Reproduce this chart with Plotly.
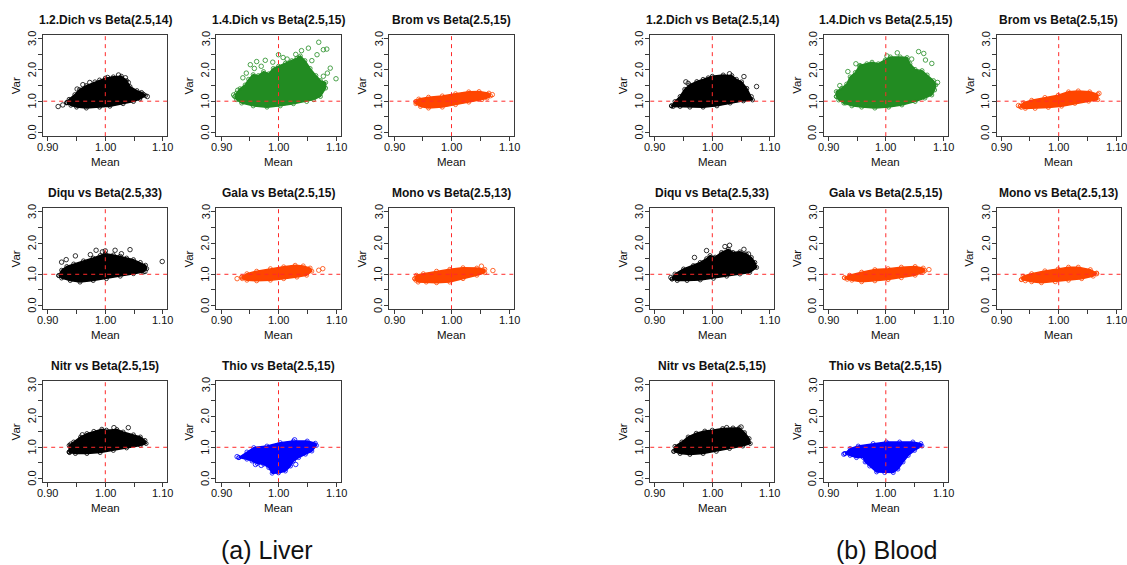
import plotly.graph_objects as go

# ---------------------------------------------------------------------------
# Mean / variance clouds of simulated ratios against Beta priors.
# Each cloud is stored as its outline (Mean, Var) plus the stray points
# lying outside the dense core.
# ---------------------------------------------------------------------------

panel_titles = [
    "1.2.Dich vs Beta(2.5,14)", "1.4.Dich vs Beta(2.5,15)", "Brom vs Beta(2.5,15)",
    "Diqu vs Beta(2.5,33)", "Gala vs Beta(2.5,15)", "Mono vs Beta(2.5,13)",
    "Nitr vs Beta(2.5,15)", "Thio vs Beta(2.5,15)",
]
panel_colors = ["#000000", "#228B22", "#FF4500", "#000000",
                "#FF4500", "#FF4500", "#000000", "#0000FF"]
group_labels = ["(a) Liver", "(b) Blood"]

x_ticks = [0.90, 0.95, 1.00, 1.05, 1.10]
x_tick_text = ["0.90", "", "1.00", "", "1.10"]
y_ticks = [0.0, 0.5, 1.0, 1.5, 2.0, 2.5, 3.0]
y_tick_text = ["0.0", "", "1.0", "", "2.0", "", "3.0"]

# ----------------------------- Liver ---------------------------------------
liver_dich12_hull = [(0.933, 0.95), (0.937, 1.06), (0.947, 1.21), (0.955, 1.37), (0.967, 1.50),
                     (0.982, 1.62), (0.990, 1.68), (1.000, 1.74), (1.014, 1.78), (1.028, 1.80),
                     (1.037, 1.66), (1.043, 1.47), (1.055, 1.34), (1.063, 1.28), (1.070, 1.18),
                     (1.060, 1.07), (1.049, 0.99), (1.031, 0.92), (1.008, 0.84), (0.990, 0.81),
                     (0.967, 0.78), (0.950, 0.81), (0.940, 0.87)]
liver_dich12_pts = [(0.918, 0.83), (0.926, 0.88), (0.934, 0.96), (0.951, 1.39), (0.961, 1.53),
                    (0.973, 1.60), (1.023, 1.84), (1.035, 1.75), (1.073, 1.15), (1.066, 1.22),
                    (1.004, 1.76), (1.040, 1.60)]

liver_dich14_hull = [(0.924, 1.15), (0.927, 1.05), (0.936, 0.94), (0.956, 0.85), (0.980, 0.81),
                     (1.003, 0.85), (1.026, 0.92), (1.049, 0.99), (1.061, 1.05), (1.073, 1.15),
                     (1.082, 1.42), (1.082, 1.60), (1.073, 1.66), (1.065, 1.82), (1.055, 2.05),
                     (1.046, 2.30), (1.038, 2.45), (1.032, 2.38), (1.023, 2.30), (1.012, 2.22),
                     (1.000, 2.12), (0.991, 2.05), (0.983, 1.88), (0.974, 1.95), (0.965, 1.82),
                     (0.956, 1.85), (0.948, 1.70), (0.942, 1.52), (0.933, 1.40), (0.927, 1.26)]
liver_dich14_pts = [(1.070, 2.89), (1.078, 2.65), (1.084, 2.67), (1.090, 2.06), (1.100, 1.72),
                    (1.052, 2.70), (1.067, 2.49), (1.000, 2.49), (0.962, 2.27), (0.951, 2.17),
                    (0.977, 2.31), (1.040, 2.62), (1.030, 2.50), (1.058, 2.30), (1.015, 2.35),
                    (0.990, 2.25), (0.958, 2.05), (0.944, 1.90), (0.938, 1.75), (1.085, 1.90),
                    (1.078, 1.80), (0.922, 1.20), (0.929, 1.35), (0.970, 2.12), (1.008, 2.40)]

liver_brom_hull = [(0.938, 0.99), (0.943, 1.07), (0.960, 1.13), (0.984, 1.17), (1.007, 1.24),
                   (1.030, 1.30), (1.048, 1.31), (1.065, 1.26), (1.068, 1.17), (1.062, 1.10),
                   (1.053, 1.05), (1.030, 0.97), (1.007, 0.89), (0.984, 0.81), (0.960, 0.78),
                   (0.946, 0.83), (0.938, 0.92)]
liver_brom_pts = [(1.071, 1.21), (0.940, 0.96)]

liver_diqu_hull = [(0.919, 0.96), (0.924, 1.13), (0.933, 1.25), (0.945, 1.33), (0.962, 1.43),
                   (0.979, 1.52), (0.991, 1.60), (1.000, 1.66), (1.014, 1.62), (1.026, 1.58),
                   (1.037, 1.52), (1.049, 1.47), (1.061, 1.38), (1.070, 1.29), (1.072, 1.18),
                   (1.066, 1.07), (1.049, 1.02), (1.026, 0.94), (1.002, 0.86), (0.979, 0.80),
                   (0.956, 0.75), (0.939, 0.80), (0.924, 0.88)]
liver_diqu_pts = [(0.924, 1.39), (0.932, 1.47), (0.948, 1.59), (0.974, 1.63), (0.984, 1.77),
                  (0.995, 1.72), (1.000, 1.75), (1.017, 1.77), (1.028, 1.66), (1.043, 1.79),
                  (1.069, 1.09), (1.099, 1.41)]

liver_gala_hull = [(0.936, 0.91), (0.945, 1.02), (0.962, 1.10), (0.986, 1.18), (1.009, 1.24),
                   (1.029, 1.29), (1.043, 1.27), (1.055, 1.20), (1.058, 1.10), (1.049, 0.97),
                   (1.032, 0.91), (1.009, 0.86), (0.986, 0.81), (0.962, 0.79), (0.945, 0.81),
                   (0.937, 0.86)]
liver_gala_pts = [(0.928, 0.86), (1.070, 1.13), (1.077, 1.18)]

liver_mono_hull = [(0.936, 0.86), (0.939, 0.97), (0.951, 1.02), (0.974, 1.10), (0.997, 1.16),
                   (1.020, 1.21), (1.044, 1.20), (1.058, 1.16), (1.058, 1.05), (1.044, 0.97),
                   (1.020, 0.86), (0.997, 0.75), (0.974, 0.73), (0.956, 0.75), (0.942, 0.75),
                   (0.938, 0.81)]
liver_mono_pts = [(1.072, 1.12), (1.052, 1.26)]

liver_nitr_hull = [(0.937, 0.85), (0.937, 1.06), (0.945, 1.17), (0.957, 1.33), (0.968, 1.44),
                   (0.980, 1.51), (0.994, 1.58), (1.002, 1.55), (1.020, 1.57), (1.031, 1.49),
                   (1.049, 1.40), (1.061, 1.33), (1.069, 1.22), (1.071, 1.12), (1.061, 1.06),
                   (1.037, 0.98), (1.014, 0.90), (0.991, 0.83), (0.968, 0.80), (0.948, 0.80),
                   (0.938, 0.83)]
liver_nitr_pts = [(1.040, 1.63), (1.015, 1.63), (0.960, 1.40), (0.940, 1.10)]

liver_thio_hull = [(0.931, 0.67), (0.945, 0.85), (0.957, 0.99), (0.980, 1.04), (1.003, 1.15),
                   (1.026, 1.20), (1.050, 1.20), (1.064, 1.13), (1.066, 1.06), (1.058, 0.88),
                   (1.047, 0.78), (1.035, 0.67), (1.026, 0.56), (1.021, 0.40), (1.012, 0.24),
                   (1.000, 0.18), (0.989, 0.17), (0.983, 0.35), (0.974, 0.46), (0.963, 0.48),
                   (0.954, 0.56), (0.945, 0.62)]
liver_thio_pts = [(0.928, 0.70), (0.960, 0.45), (0.970, 0.42), (1.030, 0.45), (1.028, 1.24)]

# ----------------------------- Blood ---------------------------------------
blood_dich12_hull = [(0.929, 0.85), (0.935, 0.99), (0.944, 1.15), (0.952, 1.38), (0.961, 1.52),
                     (0.973, 1.63), (0.984, 1.70), (0.993, 1.75), (1.000, 1.80), (1.019, 1.84),
                     (1.034, 1.82), (1.042, 1.70), (1.051, 1.62), (1.060, 1.41), (1.068, 1.15),
                     (1.070, 1.04), (1.054, 1.01), (1.031, 0.94), (1.008, 0.85), (0.984, 0.81),
                     (0.961, 0.81), (0.944, 0.83), (0.932, 0.83)]
blood_dich12_pts = [(1.077, 1.47), (1.055, 1.79), (0.954, 1.62), (0.958, 1.57), (1.030, 1.88)]

blood_dich14_hull = [(0.914, 1.15), (0.914, 1.31), (0.923, 1.41), (0.932, 1.55), (0.938, 1.78),
                     (0.947, 1.92), (0.955, 2.15), (0.967, 2.20), (0.976, 2.25), (0.987, 2.20),
                     (0.999, 2.32), (1.008, 2.42), (1.025, 2.42), (1.037, 2.40), (1.042, 2.20),
                     (1.051, 2.02), (1.063, 1.98), (1.072, 1.84), (1.083, 1.66), (1.087, 1.52),
                     (1.085, 1.36), (1.080, 1.20), (1.068, 1.10), (1.051, 0.99), (1.028, 0.88),
                     (1.005, 0.81), (0.981, 0.78), (0.958, 0.81), (0.941, 0.85), (0.927, 0.94),
                     (0.918, 1.04)]
blood_dich14_pts = [(1.057, 2.59), (1.069, 2.32), (1.080, 2.21), (1.066, 2.53), (0.955, 2.11),
                    (0.970, 2.11), (0.948, 2.20), (1.020, 2.55), (1.002, 2.45), (1.045, 2.35),
                    (0.934, 1.95), (0.920, 1.50), (1.090, 1.60), (0.930, 0.95)]

blood_brom_hull = [(0.933, 0.84), (0.939, 0.95), (0.953, 1.03), (0.976, 1.12), (0.999, 1.19),
                   (1.017, 1.30), (1.034, 1.33), (1.054, 1.30), (1.068, 1.22), (1.068, 1.05),
                   (1.052, 1.00), (1.028, 0.93), (1.005, 0.84), (0.982, 0.80), (0.959, 0.77),
                   (0.942, 0.77), (0.935, 0.80)]
blood_brom_pts = [(1.070, 1.25), (0.930, 0.86)]

blood_diqu_hull = [(0.930, 0.85), (0.935, 1.01), (0.950, 1.17), (0.967, 1.28), (0.979, 1.38),
                   (0.990, 1.50), (0.996, 1.60), (1.005, 1.55), (1.016, 1.70), (1.028, 1.80),
                   (1.036, 1.70), (1.048, 1.72), (1.059, 1.65), (1.068, 1.54), (1.074, 1.38),
                   (1.077, 1.22), (1.065, 1.06), (1.048, 1.01), (1.025, 0.94), (1.002, 0.87),
                   (0.979, 0.82), (0.956, 0.80), (0.939, 0.80)]
blood_diqu_pts = [(0.969, 1.54), (0.990, 1.76), (1.022, 1.89), (1.030, 1.93), (1.055, 1.80),
                  (1.063, 1.65), (0.928, 0.90)]

blood_gala_hull = [(0.928, 0.89), (0.937, 0.97), (0.958, 1.07), (0.981, 1.15), (1.004, 1.18),
                   (1.027, 1.23), (1.051, 1.25), (1.065, 1.20), (1.068, 1.12), (1.065, 1.07),
                   (1.051, 0.97), (1.027, 0.89), (1.004, 0.83), (0.981, 0.79), (0.958, 0.76),
                   (0.941, 0.81), (0.933, 0.84)]
blood_gala_pts = [(1.075, 1.15)]

blood_mono_hull = [(0.935, 0.83), (0.938, 0.94), (0.953, 1.02), (0.976, 1.11), (0.999, 1.17),
                   (1.017, 1.23), (1.034, 1.23), (1.055, 1.15), (1.066, 1.04), (1.060, 0.94),
                   (1.040, 0.86), (1.017, 0.81), (0.994, 0.76), (0.970, 0.73), (0.953, 0.76),
                   (0.942, 0.79)]
blood_mono_pts = [(1.066, 1.02)]

blood_nitr_hull = [(0.933, 0.87), (0.935, 1.03), (0.947, 1.17), (0.958, 1.33), (0.972, 1.45),
                   (0.987, 1.52), (1.000, 1.55), (1.018, 1.60), (1.036, 1.62), (1.047, 1.62),
                   (1.056, 1.47), (1.064, 1.28), (1.066, 1.12), (1.053, 1.04), (1.030, 0.96),
                   (1.007, 0.87), (0.984, 0.80), (0.961, 0.77), (0.944, 0.80)]
blood_nitr_pts = [(1.050, 1.65), (1.025, 1.63)]

blood_thio_hull = [(0.929, 0.80), (0.938, 0.96), (0.952, 1.04), (0.978, 1.12), (1.001, 1.17),
                   (1.024, 1.17), (1.047, 1.17), (1.061, 1.12), (1.063, 1.04), (1.050, 0.90),
                   (1.039, 0.74), (1.030, 0.53), (1.021, 0.30), (1.013, 0.19), (0.998, 0.19),
                   (0.984, 0.21), (0.972, 0.40), (0.964, 0.53), (0.961, 0.67), (0.949, 0.67),
                   (0.938, 0.74)]
blood_thio_pts = [(0.927, 0.78)]

liver_hulls = [liver_dich12_hull, liver_dich14_hull, liver_brom_hull, liver_diqu_hull,
               liver_gala_hull, liver_mono_hull, liver_nitr_hull, liver_thio_hull]
liver_points = [liver_dich12_pts, liver_dich14_pts, liver_brom_pts, liver_diqu_pts,
                liver_gala_pts, liver_mono_pts, liver_nitr_pts, liver_thio_pts]
blood_hulls = [blood_dich12_hull, blood_dich14_hull, blood_brom_hull, blood_diqu_hull,
               blood_gala_hull, blood_mono_hull, blood_nitr_hull, blood_thio_hull]
blood_points = [blood_dich12_pts, blood_dich14_pts, blood_brom_pts, blood_diqu_pts,
                blood_gala_pts, blood_mono_pts, blood_nitr_pts, blood_thio_pts]

# ----------------------------- layout --------------------------------------
W, H = 1127, 565
X_RANGE = [0.892, 1.108]
Y_RANGE = [-0.12, 3.12]
PX_PER_X = 575.0
PX_PER_Y = 31.2
col_center_px = [[105.3, 278.5, 451.5], [712.3, 885.8, 1058.7]]   # pixel of Mean = 1.00
row_one_px = [101.2, 274.3, 447.3]                               # pixel of Var = 1.0
FONT = "Liberation Sans, Arial, Helvetica, sans-serif"
TEXT = "#111"
REF_RED = "#FF2A2A"

fig = go.Figure()
annotations = []
shapes = []


def px_x(p):
    return p / W


def px_y(p):
    return 1 - p / H


axis_no = 0
for g, (hulls, points) in enumerate([(liver_hulls, liver_points), (blood_hulls, blood_points)]):
    for k in range(8):
        r, c = divmod(k, 3)
        axis_no += 1
        xa = "x" if axis_no == 1 else f"x{axis_no}"
        ya = "y" if axis_no == 1 else f"y{axis_no}"
        xkey = "xaxis" if axis_no == 1 else f"xaxis{axis_no}"
        ykey = "yaxis" if axis_no == 1 else f"yaxis{axis_no}"

        cx = col_center_px[g][c]
        left = cx - (1.0 - X_RANGE[0]) * PX_PER_X
        right = cx + (X_RANGE[1] - 1.0) * PX_PER_X
        top = row_one_px[r] - (Y_RANGE[1] - 1.0) * PX_PER_Y
        bottom = row_one_px[r] + (1.0 - Y_RANGE[0]) * PX_PER_Y

        # frame + outside ticks; the tick labels are placed below as text
        common = dict(showline=True, mirror=True, linecolor="#3a3a3a", linewidth=1,
                      ticks="outside", ticklen=4, tickwidth=1, tickcolor="#3a3a3a",
                      showticklabels=False, showgrid=False, zeroline=False, fixedrange=True)
        fig.update_layout({
            xkey: dict(domain=[px_x(left), px_x(right)], range=X_RANGE, anchor=ya,
                       tickvals=x_ticks, **common),
            ykey: dict(domain=[px_y(bottom), px_y(top)], range=Y_RANGE, anchor=xa,
                       tickvals=y_ticks, **common),
        })

        for v, t in zip(x_ticks, x_tick_text):
            if t:
                annotations.append(dict(text=t, xref=xa, yref="paper", x=v,
                                        y=px_y(bottom + 10.5), xanchor="center",
                                        yanchor="middle", showarrow=False,
                                        font=dict(family=FONT, size=11, color=TEXT)))
        for v, t in zip(y_ticks, y_tick_text):
            if t:
                annotations.append(dict(text=t, xref="paper", yref=ya, x=px_x(left - 11),
                                        y=v, xanchor="center", yanchor="middle",
                                        textangle=-90, showarrow=False,
                                        font=dict(family=FONT, size=11, color=TEXT)))

        color = panel_colors[k]
        hull = hulls[k] + [hulls[k][0]]
        fig.add_trace(go.Scatter(
            x=[p[0] for p in hull], y=[p[1] for p in hull], xaxis=xa, yaxis=ya,
            mode="lines+markers", fill="toself", fillcolor=color,
            line=dict(color=color, width=1.5),
            marker=dict(symbol="circle-open", size=4, color=color, line=dict(width=0.8)),
            hoverinfo="skip", showlegend=False))
        pts = points[k]
        fig.add_trace(go.Scatter(
            x=[p[0] for p in pts], y=[p[1] for p in pts], xaxis=xa, yaxis=ya,
            mode="markers",
            marker=dict(symbol="circle-open", size=4.5, color=color, line=dict(width=0.8)),
            hoverinfo="skip", showlegend=False))

        # reference lines at Mean = 1 and Var = 1
        dash_style = dict(color=REF_RED, width=1, dash="4px,4px")
        shapes.append(dict(type="line", xref=xa, yref=ya, x0=1.0, x1=1.0,
                           y0=Y_RANGE[0], y1=Y_RANGE[1], line=dash_style, layer="above"))
        shapes.append(dict(type="line", xref=xa, yref=ya, x0=X_RANGE[0], x1=X_RANGE[1],
                           y0=1.0, y1=1.0, line=dash_style, layer="above"))

        annotations.append(dict(text=f"<b>{panel_titles[k]}</b>", xref="paper", yref="paper",
                                x=px_x(cx), y=px_y(top - 15.5), xanchor="center", yanchor="middle",
                                showarrow=False, font=dict(family=FONT, size=12, color=TEXT)))
        annotations.append(dict(text="Mean", xref="paper", yref="paper",
                                x=px_x(cx), y=px_y(bottom + 26), xanchor="center",
                                yanchor="middle", showarrow=False,
                                font=dict(family=FONT, size=11.5, color=TEXT)))
        annotations.append(dict(text="Var", xref="paper", yref="paper",
                                x=px_x(left - 27.5), y=px_y((top + bottom) / 2), xanchor="center",
                                yanchor="middle", textangle=-90, showarrow=False,
                                font=dict(family=FONT, size=11.5, color=TEXT)))

for label, xc in zip(group_labels, [267, 886]):
    annotations.append(dict(text=label, xref="paper", yref="paper", x=px_x(xc), y=px_y(550),
                            xanchor="center", yanchor="middle", showarrow=False,
                            font=dict(family=FONT, size=25, color=TEXT)))

fig.update_layout(width=W, height=H, margin=dict(l=0, r=0, t=0, b=0),
                  paper_bgcolor="white", plot_bgcolor="white",
                  annotations=annotations, shapes=shapes, showlegend=False)

fig.write_html("out.html")
